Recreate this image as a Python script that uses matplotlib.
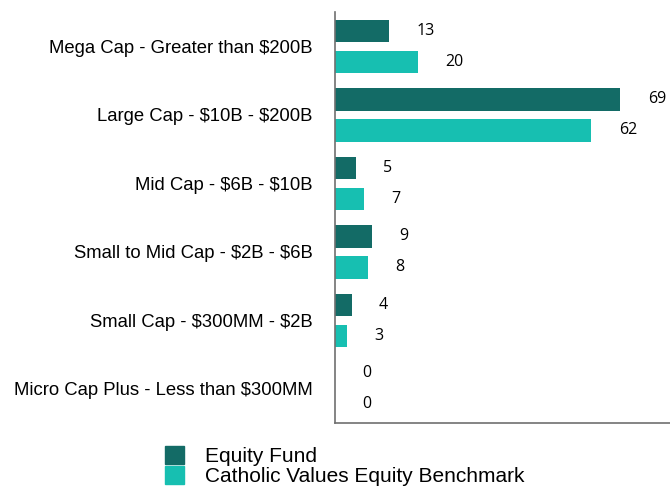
import matplotlib.pyplot as plt
import numpy as np
from matplotlib.patches import Patch

plt.rcParams['text.parse_math'] = False

categories = ['Mega Cap - Greater than $200B', 'Large Cap - $10B - $200B',
              'Mid Cap - $6B - $10B', 'Small to Mid Cap - $2B - $6B',
              'Small Cap - $300MM - $2B', 'Micro Cap Plus - Less than $300MM']
fund = [13, 69, 5, 9, 4, 0]
bench = [20, 62, 7, 8, 3, 0]
series_names = ['Equity Fund', 'Catholic Values Equity Benchmark']

c_fund = '#136b66'
c_bench = '#17bfb1'

fig = plt.figure(figsize=(6.7, 4.87), dpi=100)
ax = fig.add_axes([0.5, 0.131, 0.5, 0.844])

y = np.arange(len(categories))
off = 0.226
h = 0.33
ax.barh(y - off, fund, height=h, color=c_fund)
ax.barh(y + off, bench, height=h, color=c_bench)

for i in range(len(categories)):
    ax.text(fund[i] + 6.6, y[i] - off, str(fund[i]), va='center', ha='left',
            fontsize=11.5, family='Open Sans')
    ax.text(bench[i] + 6.6, y[i] + off, str(bench[i]), va='center', ha='left',
            fontsize=11.5, family='Open Sans')

ax.set_ylim(len(categories) - 0.5, -0.5)
ax.set_xlim(0, 81)
ax.set_yticks(y)
ax.set_yticklabels(categories, family='Liberation Sans', fontsize=13.3)
ax.tick_params(axis='y', length=0, pad=16)
ax.set_xticks([])
for s in ['top', 'right']:
    ax.spines[s].set_visible(False)
for s in ['left', 'bottom']:
    ax.spines[s].set_color('#707070')
    ax.spines[s].set_linewidth(1.2)

handles = [Patch(color=c_fund), Patch(color=c_bench)]
fig.legend(handles, series_names, loc='lower left', bbox_to_anchor=(0.23, -0.02),
           frameon=False, borderpad=0, handlelength=0.95, handleheight=0.95,
           labelspacing=0.0, handletextpad=1.0,
           prop={'family': 'Liberation Sans', 'size': 15})

fig.savefig('out.png', dpi=100)
